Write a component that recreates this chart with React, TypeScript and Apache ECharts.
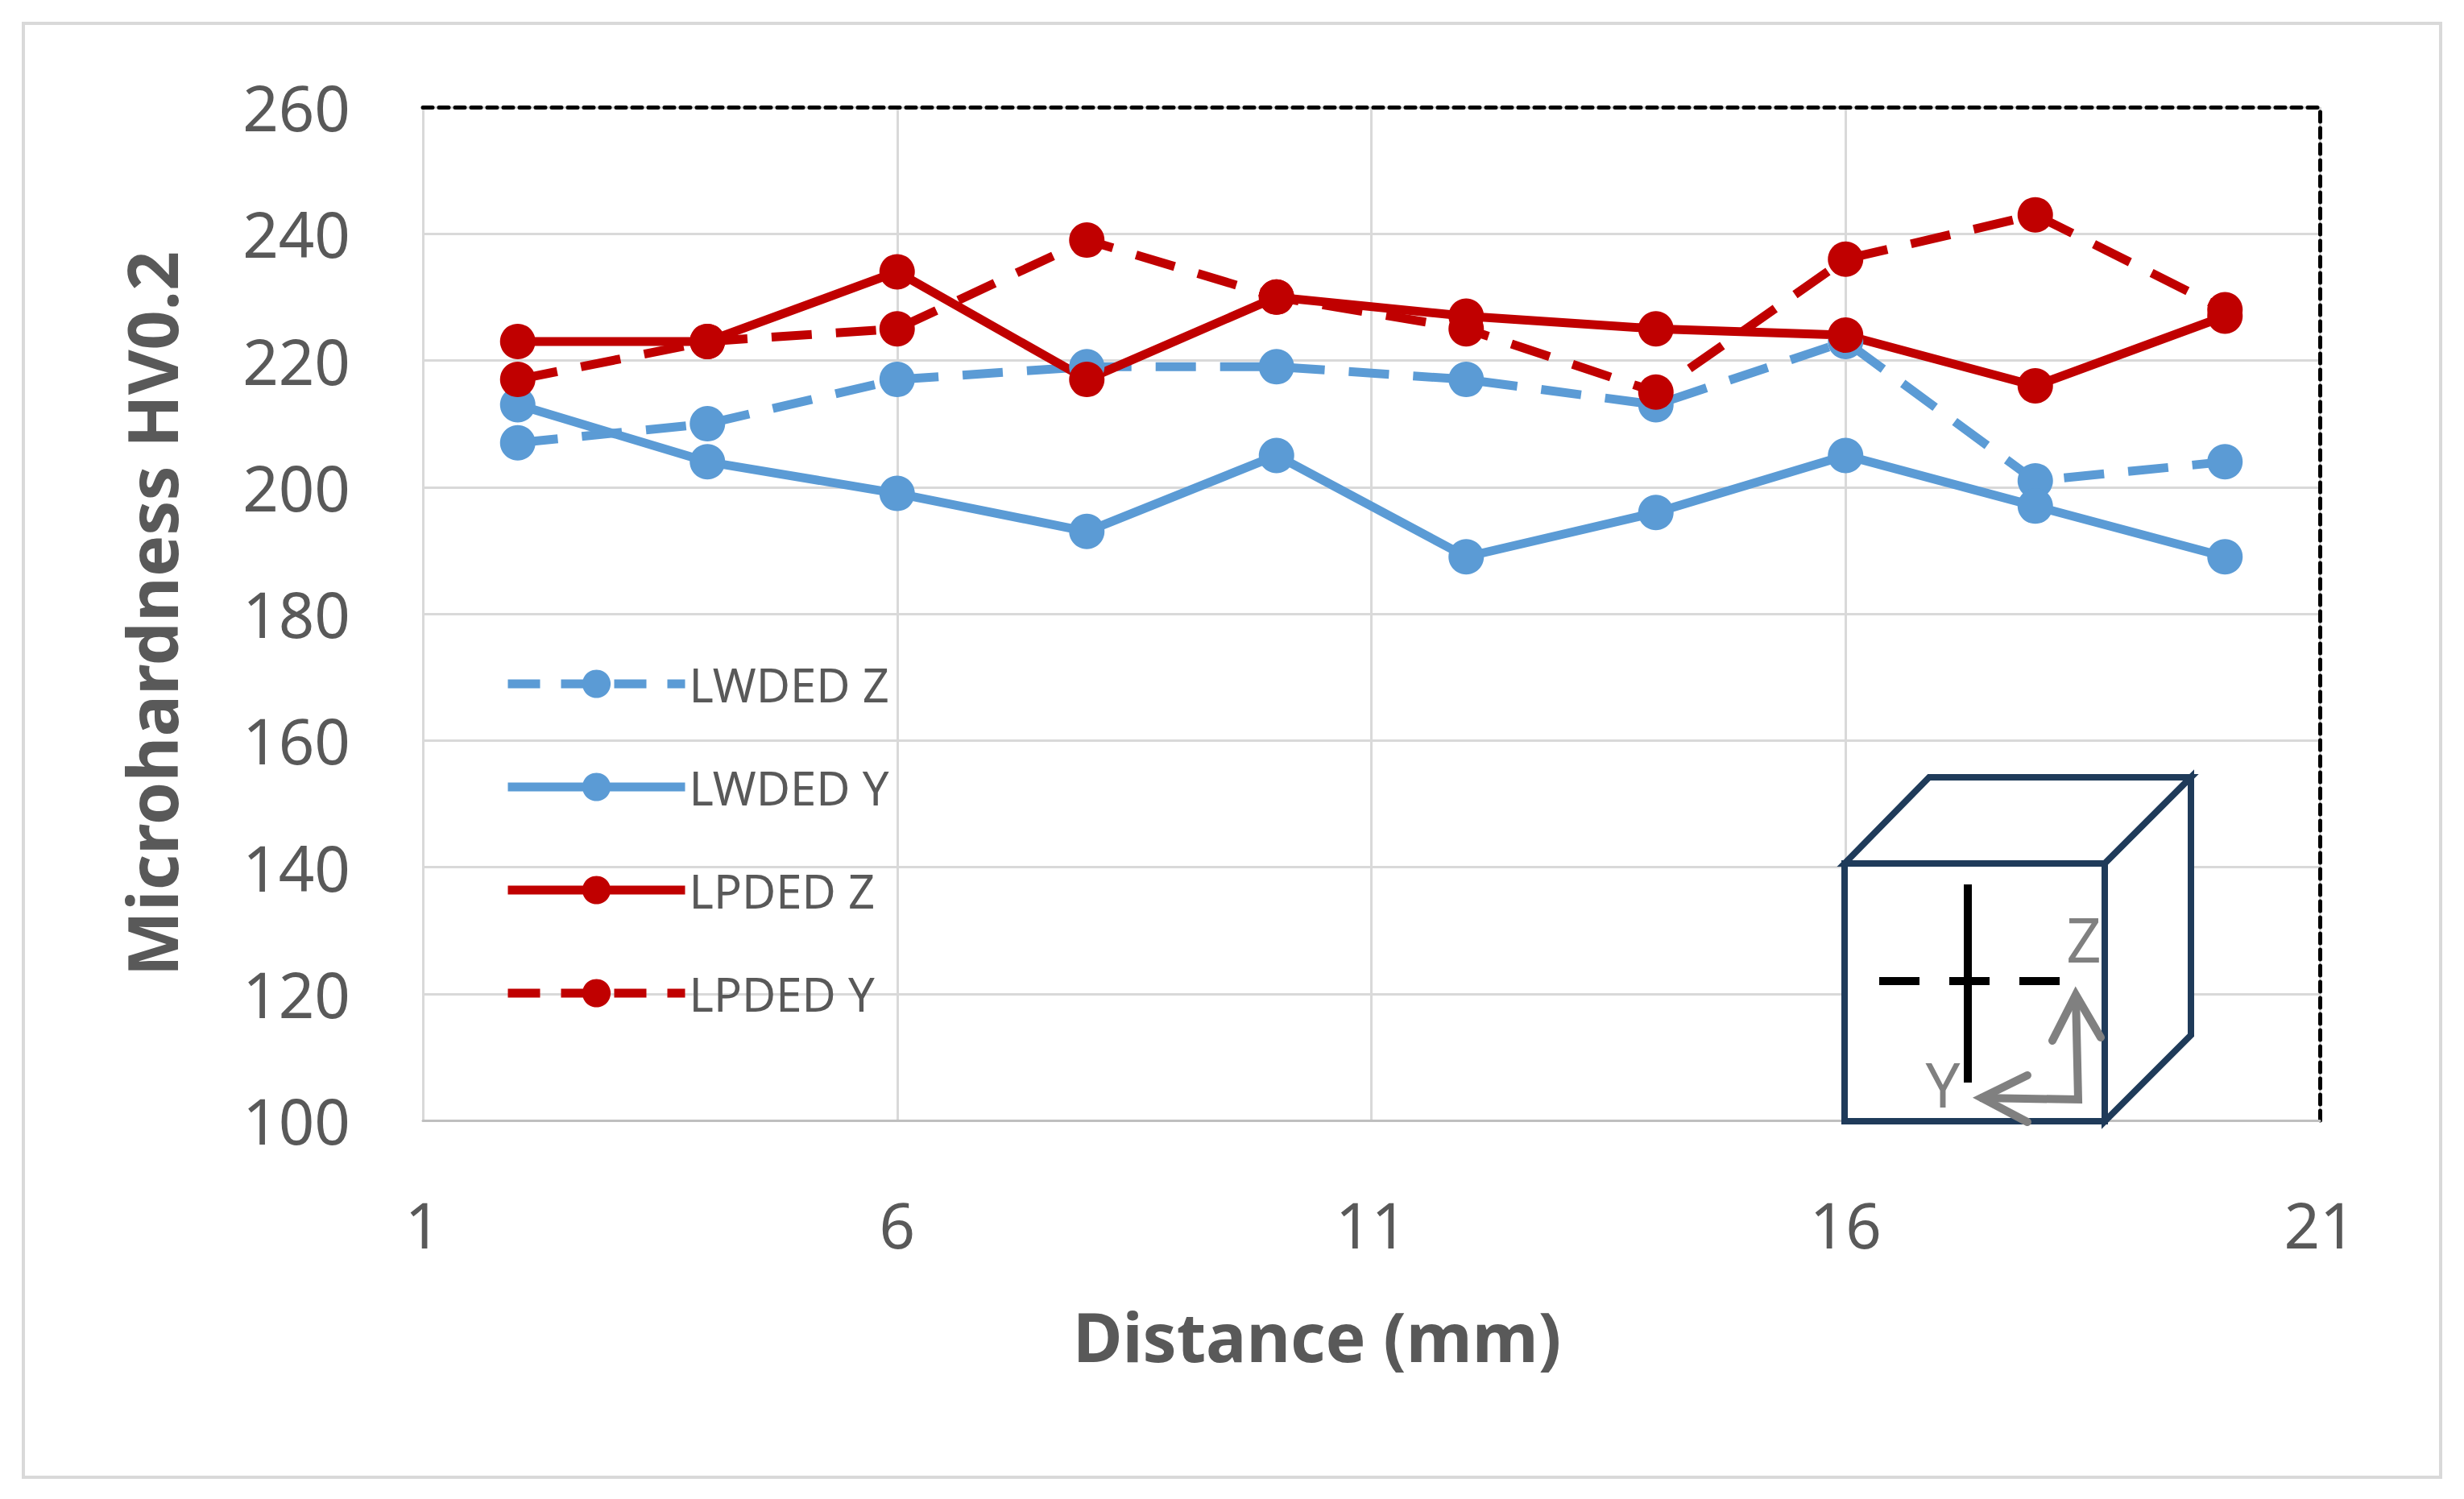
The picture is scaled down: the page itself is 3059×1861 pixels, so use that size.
import { useEffect, useRef } from 'react';
import * as echarts from 'echarts';

const distances = [2, 4, 6, 8, 10, 12, 14, 16, 18, 20];
const lwdedZ = [207, 210, 217, 219, 219, 217, 213, 223, 201, 204];
const lwdedY = [213, 204, 199, 193, 205, 189, 196, 205, 197, 189];
const lpdedZ = [223, 223, 234, 217, 230, 227, 225, 224, 216, 227];
const lpdedY = [217, 223, 225, 239, 230, 225, 215, 236, 243, 228];

const BLUE = '#5B9BD5';
const RED = '#C00000';
const TXT = '#595959';
const FONT = 'Noto Sans';
const DASH = [50, 30];

const pairs = (ys: number[]) => distances.map((x, i) => [x, ys[i]]);

const mkSeries = (name: string, ys: number[], color: string, dashed: boolean) => ({
    name,
    type: 'line',
    data: pairs(ys),
    symbol: 'circle',
    symbolSize: 44,
    itemStyle: { color },
    lineStyle: { color, width: 11, type: dashed ? DASH : 'solid' },
});

const legendItem = (name: string, color: string, dashed: boolean) => ({
    name,
    lineStyle: { color, width: 11, type: dashed ? [40, 26] : 'solid' },
});

const App = () => {
    const chartRef = useRef(null);

    useEffect(() => {
        if (chartRef.current) {
            const myChart = echarts.init(chartRef.current, null, { renderer: 'svg' });
            const gray = '#808080';
            const navy = '#1F3B5A';
            const option = {
                animation: false,
                backgroundColor: '#fff',
                textStyle: { fontFamily: FONT },
                grid: { left: 525, right: 179, top: 133, bottom: 470 },
                legend: {
                    orient: 'vertical',
                    left: 620,
                    top: 815,
                    itemWidth: 220,
                    itemHeight: 44,
                    itemGap: 70,
                    textStyle: { fontSize: 58, color: TXT, fontFamily: FONT },
                    data: [
                        legendItem('LWDED Z', BLUE, true),
                        legendItem('LWDED Y', BLUE, false),
                        legendItem('LPDED Z', RED, false),
                        legendItem('LPDED Y', RED, true),
                    ],
                },
                xAxis: [
                    {
                        type: 'value', min: 1, max: 21, interval: 5,
                        name: 'Distance (mm)', nameLocation: 'middle', nameGap: 225,
                        nameTextStyle: { fontSize: 84, fontWeight: 'bold', color: TXT, padding: [0, 135, 0, 0] },
                        axisLine: { lineStyle: { color: '#BFBFBF', width: 3 } },
                        axisTick: { show: false },
                        axisLabel: { fontSize: 78, color: TXT, margin: 90 },
                        splitLine: { lineStyle: { color: '#D9D9D9', width: 3 } },
                    },
                    {
                        type: 'value', min: 1, max: 21, interval: 5, position: 'top',
                        axisLine: { lineStyle: { color: '#000', width: 5, type: [12, 8] } },
                        axisTick: { show: false }, axisLabel: { show: false }, splitLine: { show: false },
                    },
                ],
                yAxis: [
                    {
                        type: 'value', min: 100, max: 260, interval: 20,
                        name: 'Microhardness HV0.2', nameLocation: 'middle', nameGap: 295,
                        nameTextStyle: { fontSize: 86, fontWeight: 'bold', color: TXT },
                        axisLine: { show: true, lineStyle: { color: '#D9D9D9', width: 3 } },
                        axisTick: { show: false },
                        axisLabel: { fontSize: 78, color: TXT, margin: 90 },
                        splitLine: { lineStyle: { color: '#D9D9D9', width: 3 } },
                    },
                    {
                        type: 'value', min: 100, max: 260, interval: 20, position: 'right',
                        axisLine: { show: true, lineStyle: { color: '#000', width: 5, type: [12, 8] } },
                        axisTick: { show: false }, axisLabel: { show: false }, splitLine: { show: false },
                    },
                ],
                series: [
                    mkSeries('LWDED Z', lwdedZ, BLUE, true),
                    mkSeries('LWDED Y', lwdedY, BLUE, false),
                    mkSeries('LPDED Z', lpdedZ, RED, false),
                    mkSeries('LPDED Y', lpdedY, RED, true),
                ],
                graphic: [
                    { type: 'rect', shape: { x: 29, y: 29, width: 3001, height: 1805 }, style: { fill: 'none', stroke: '#D9D9D9', lineWidth: 4 }, z: -1 },
                    { type: 'rect', shape: { x: 2290, y: 1072, width: 323, height: 320 }, style: { fill: '#fff', stroke: navy, lineWidth: 8 }, z: 10 },
                    { type: 'polygon', shape: { points: [[2290, 1072], [2395, 965], [2720, 965], [2613, 1072]] }, style: { fill: '#fff', stroke: navy, lineWidth: 8, lineJoin: 'miter' }, z: 10 },
                    { type: 'polygon', shape: { points: [[2613, 1072], [2720, 965], [2720, 1285], [2613, 1392]] }, style: { fill: '#fff', stroke: navy, lineWidth: 8, lineJoin: 'miter' }, z: 10 },
                    { type: 'line', shape: { x1: 2443, y1: 1098, x2: 2443, y2: 1344 }, style: { stroke: '#000', lineWidth: 10 }, z: 11 },
                    { type: 'line', shape: { x1: 2333, y1: 1218, x2: 2560, y2: 1218 }, style: { stroke: '#000', lineWidth: 10, lineDash: [50, 37] }, z: 11 },
                    { type: 'polyline', shape: { points: [[2458, 1363], [2580, 1365], [2577, 1235]] }, style: { stroke: gray, lineWidth: 10, fill: 'none' }, z: 11 },
                    { type: 'polyline', shape: { points: [[2548, 1292], [2577, 1235], [2608, 1288]] }, style: { stroke: gray, lineWidth: 10, fill: 'none', lineCap: 'round' }, z: 11 },
                    { type: 'polyline', shape: { points: [[2517, 1335], [2460, 1363], [2517, 1393]] }, style: { stroke: gray, lineWidth: 10, fill: 'none', lineCap: 'round' }, z: 11 },
                    { type: 'text', x: 2587, y: 1165, style: { text: 'Z', fontSize: 76, fill: gray, fontFamily: FONT, align: 'center', verticalAlign: 'middle' }, z: 11 },
                    { type: 'text', x: 2412, y: 1345, style: { text: 'Y', fontSize: 76, fill: gray, fontFamily: FONT, align: 'center', verticalAlign: 'middle' }, z: 11 },
                ],
            };

            myChart.setOption(option);

            return () => {
                myChart.dispose();
            };
        }
    }, []);

    return <div ref={chartRef} style={{ position: 'fixed', left: 0, top: 0, width: '3059px', height: '1861px' }} />;
};

export default App;
